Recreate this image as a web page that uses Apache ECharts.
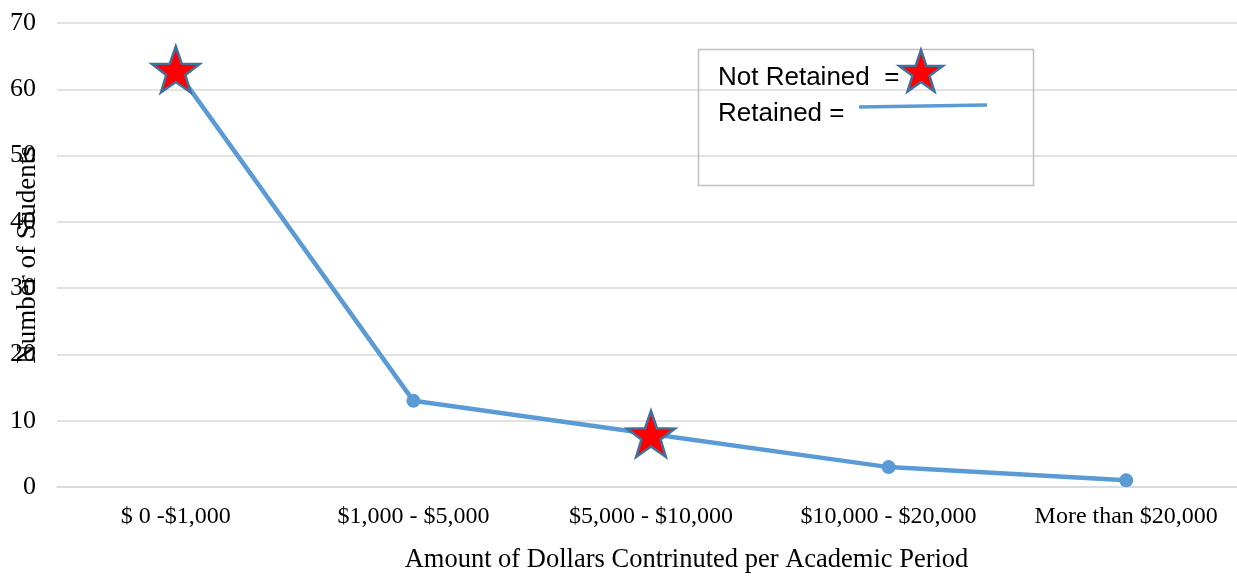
<!DOCTYPE html>
<html>
<head>
<meta charset="utf-8">
<script src="https://cdn.jsdelivr.net/npm/echarts@6/dist/echarts.min.js"></script>
<style>html,body{margin:0;padding:0;background:#fff}#c{width:1237px;height:576px}</style>
</head>
<body>
<div id="c"></div>
<script>
var categories = ['$ 0 -$1,000', '$1,000 - $5,000', '$5,000 - $10,000', '$10,000 - $20,000', 'More than $20,000'];
var students = [63, 13, 8, 3, 1];
var notRetained = [true, false, true, false, false];
var yTicks = { min: 0, max: 70, interval: 10 };

function starPoints(cx, cy, R, r) {
  var pts = [];
  for (var i = 0; i < 10; i++) {
    var rad = i % 2 === 0 ? R : r;
    var a = -Math.PI / 2 + i * Math.PI / 5;
    pts.push([cx + rad * Math.cos(a), cy + rad * Math.sin(a)]);
  }
  return pts;
}
var sp = starPoints(50, 52.6, 50, 20);
var starPath = 'path://M' + sp.map(function (p) { return p[0].toFixed(2) + ',' + p[1].toFixed(2); }).join('L') + 'Z';

var lineColor = '#5B9BD5';
var starStyle = { color: '#FF0000', borderColor: '#41719C', borderWidth: 2.5 };

var data = students.map(function (v, i) {
  if (notRetained[i]) {
    return { value: v, symbol: starPath, symbolSize: [48, 46], itemStyle: starStyle, z: 5 };
  }
  return { value: v, symbol: 'circle', symbolSize: 14 };
});

var chart = echarts.init(document.getElementById('c'), null, { renderer: 'canvas' });
chart.setOption({
  animation: false,
  backgroundColor: '#ffffff',
  grid: { left: 57, right: -8, top: 23, bottom: 89, containLabel: false, outerBoundsMode: 'none' },
  xAxis: {
    type: 'category',
    data: categories,
    boundaryGap: true,
    axisLine: { show: true, lineStyle: { color: '#D9D9D9', width: 1.5 } },
    axisTick: { show: false },
    axisLabel: { color: '#000', fontFamily: 'Liberation Serif', fontSize: 24, margin: 18, interval: 0 },
    name: 'Amount of Dollars Contrinuted per Academic Period',
    nameLocation: 'middle',
    nameGap: 60,
    nameMoveOverlap: false,
    nameTextStyle: { color: '#000', fontFamily: 'Liberation Serif', fontSize: 26.5, padding: [0, 0, 0, 71] }
  },
  yAxis: {
    type: 'value',
    min: yTicks.min, max: yTicks.max, interval: yTicks.interval,
    axisLine: { show: false },
    axisTick: { show: false },
    splitLine: { lineStyle: { color: '#D9D9D9', width: 1.5 } },
    axisLabel: { color: '#000', fontFamily: 'Liberation Serif', fontSize: 26, margin: 21 },
    name: 'Number of Students',
    nameLocation: 'middle',
    nameRotate: 90,
    nameGap: 16,
    nameMoveOverlap: false,
    nameTextStyle: { color: '#000', fontFamily: 'Liberation Serif', fontSize: 27 }
  },
  series: [{
    type: 'line',
    data: data,
    showAllSymbol: true,
    lineStyle: { color: lineColor, width: 4.5 },
    itemStyle: { color: lineColor },
    z: 3
  }],
  graphic: [
    { type: 'rect', shape: { x: 698.5, y: 49.5, width: 335, height: 136 }, style: { fill: 'transparent', stroke: '#BFBFBF', lineWidth: 1.5 }, z: 10 },
    { type: 'text', x: 718, y: 78, style: { text: 'Not Retained  =', fill: '#000', font: '26px "Liberation Sans"', verticalAlign: 'middle' }, z: 10 },
    { type: 'text', x: 718, y: 114, style: { text: 'Retained =', fill: '#000', font: '26px "Liberation Sans"', verticalAlign: 'middle' }, z: 10 },
    { type: 'polygon', shape: { points: starPoints(921, 73, 23, 9) }, style: { fill: '#FF0000', stroke: '#41719C', lineWidth: 2.5 }, z: 11 },
    { type: 'line', shape: { x1: 859, y1: 107, x2: 987, y2: 105 }, style: { stroke: lineColor, lineWidth: 3.5 }, z: 10 }
  ]
});
</script>
</body>
</html>
